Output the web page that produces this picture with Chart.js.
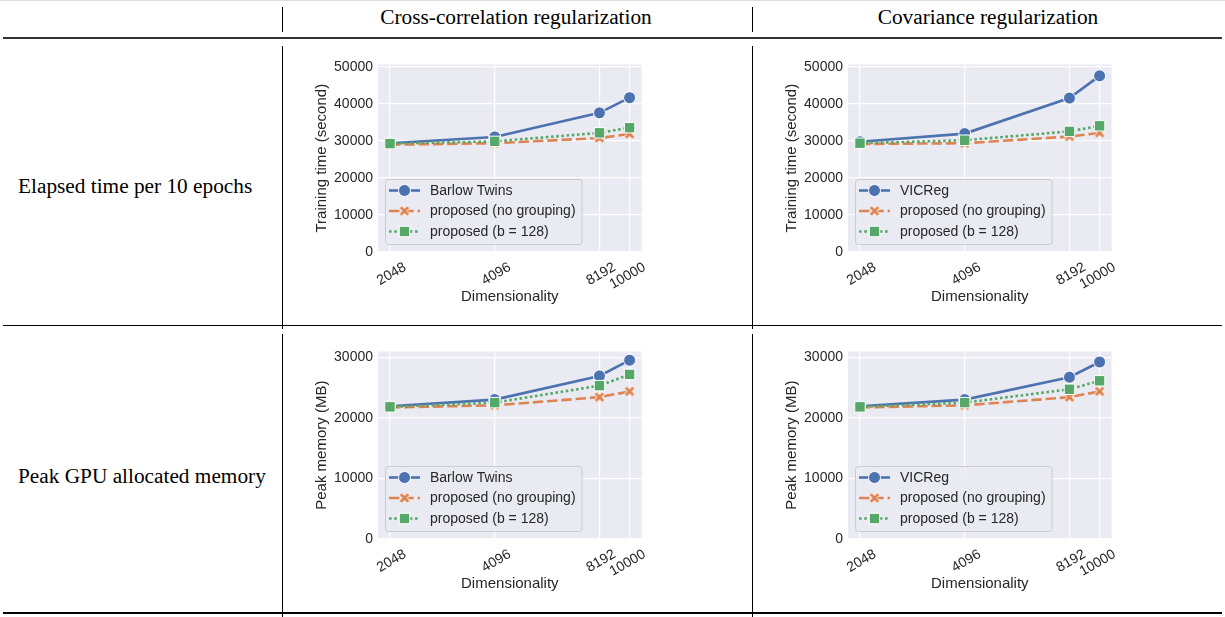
<!DOCTYPE html>
<html><head><meta charset="utf-8">
<script src="https://cdn.jsdelivr.net/npm/chart.js@4.4.1/dist/chart.umd.min.js"></script>
<style>
html,body{margin:0;padding:0;background:#fff;}
body{width:1225px;height:617px;overflow:hidden;position:relative;font-family:"Liberation Serif","Times New Roman",serif;}
.ln{position:absolute;background:#000;}
.t{position:absolute;font-size:21.3px;line-height:1;color:#000;white-space:nowrap;}
.hc{transform:translateX(-50%);}
canvas.c{position:absolute;}
</style></head><body>
<div class="ln" style="left:0;top:0;width:1225px;height:1px;background:#dcdcdc"></div>
<div class="ln" style="left:3px;top:37px;width:1219px;height:2px;background:#333"></div>
<div class="ln" style="left:3px;top:325px;width:1219px;height:1px;"></div>
<div class="ln" style="left:3px;top:612px;width:1219px;height:2px;"></div>
<div class="ln" style="left:282px;top:7px;width:1px;height:25px;"></div>
<div class="ln" style="left:752px;top:7px;width:1px;height:25px;"></div>
<div class="ln" style="left:282px;top:46px;width:1px;height:283px;"></div>
<div class="ln" style="left:752px;top:46px;width:1px;height:283px;"></div>
<div class="ln" style="left:282px;top:334px;width:1px;height:283px;"></div>
<div class="ln" style="left:752px;top:334px;width:1px;height:283px;"></div>
<div class="t hc" style="left:516px;top:7px">Cross-correlation regularization</div>
<div class="t hc" style="left:988px;top:7px">Covariance regularization</div>
<div class="t" style="left:18px;top:175.5px">Elapsed time per 10 epochs</div>
<div class="t" style="left:18px;top:465.5px">Peak GPU allocated memory</div>
<canvas class="c" id="c1" width="345" height="259" style="left:305px;top:51px"></canvas>
<canvas class="c" id="c2" width="345" height="259" style="left:775px;top:51px"></canvas>
<canvas class="c" id="c3" width="345" height="259" style="left:305px;top:338px"></canvas>
<canvas class="c" id="c4" width="345" height="259" style="left:775px;top:338px"></canvas>
<script>
// ---- data ----
const dims = [2048, 4096, 8192, 10000];
const xTicks = [2048, 4096, 8192, 10000];
const timeTicks = [0, 10000, 20000, 30000, 40000, 50000];
const memTicks = [0, 10000, 20000, 30000];

const labelsBarlow = ['Barlow Twins', 'proposed (no grouping)', 'proposed (b = 128)'];
const labelsVICReg = ['VICReg', 'proposed (no grouping)', 'proposed (b = 128)'];

const timeBarlow        = [29400, 31100, 37600, 41700];
const timeBarlowNoGroup = [29000, 29400, 30800, 31900];
const timeBarlowB128    = [29300, 29900, 32200, 33600];

const timeVICReg        = [29800, 32000, 41600, 47600];
const timeVICRegNoGroup = [29200, 29400, 31200, 32200];
const timeVICRegB128    = [29400, 30200, 32600, 34100];

const memBarlow         = [21900, 23000, 26900, 29500];
const memBarlowNoGroup  = [21700, 22050, 23400, 24350];
const memBarlowB128     = [21800, 22500, 25300, 27150];

const memVICReg         = [21900, 23000, 26700, 29200];
const memVICRegNoGroup  = [21700, 22050, 23400, 24350];
const memVICRegB128     = [21800, 22500, 24700, 26100];

// ---- styles ----
const FONT = '"Liberation Sans", Arial, sans-serif';
const TXT = '#262626';
Chart.defaults.font.family = FONT;
Chart.defaults.color = TXT;

function makeXMarker(color) {
  const c = document.createElement('canvas');
  c.width = 16; c.height = 16;
  const g = c.getContext('2d');
  const L = 5.9, w = 1.8;
  const pts = [[-L,-w],[-L,w],[-w,w],[-w,L],[w,L],[w,w],[L,w],[L,-w],[w,-w],[w,-L],[-w,-L],[-w,-w]];
  g.beginPath();
  pts.forEach(([x, y], i) => {
    const rx = (x - y) / Math.SQRT2 + 8, ry = (x + y) / Math.SQRT2 + 8;
    if (i) g.lineTo(rx, ry); else g.moveTo(rx, ry);
  });
  g.closePath();
  g.fillStyle = color; g.fill();
  g.strokeStyle = '#fff'; g.lineWidth = 1; g.stroke();
  return c;
}
const xMarker = makeXMarker('#DD8452');
const STY = [
  { color: '#4C72B0', dash: [], point: 'circle', r: 6, order: 3 },
  { color: '#DD8452', dash: [10.4, 3.9], point: xMarker, r: 6, order: 2 },
  { color: '#55A868', dash: [2.6, 2.6], point: 'rect', r: 7.4, order: 1 },
];

function mkDataset(label, vals, s) {
  return {
    label,
    data: dims.map((x, i) => ({ x, y: vals[i] })),
    borderColor: s.color, backgroundColor: s.color,
    borderWidth: 2.6, borderDash: s.dash, borderCapStyle: 'butt',
    pointStyle: s.point, pointRadius: s.r, pointHoverRadius: s.r,
    pointBackgroundColor: s.color, pointBorderColor: '#fff', pointBorderWidth: 1,
    tension: 0, fill: false, order: s.order, clip: false,
  };
}

const bgPlugin = {
  id: 'bgArea',
  beforeDraw(chart) {
    const { ctx, chartArea: a } = chart;
    ctx.save();
    ctx.fillStyle = '#EAEAF2';
    ctx.fillRect(a.left, a.top, a.right - a.left, a.bottom - a.top);
    ctx.restore();
  }
};

function roundRect(ctx, x, y, w, h, r) {
  ctx.beginPath();
  ctx.moveTo(x + r, y);
  ctx.lineTo(x + w - r, y); ctx.arcTo(x + w, y, x + w, y + r, r);
  ctx.lineTo(x + w, y + h - r); ctx.arcTo(x + w, y + h, x + w - r, y + h, r);
  ctx.lineTo(x + r, y + h); ctx.arcTo(x, y + h, x, y + h - r, r);
  ctx.lineTo(x, y + r); ctx.arcTo(x, y, x + r, y, r);
  ctx.closePath();
}

const legendPlugin = {
  id: 'seaLegend',
  afterDatasetsDraw(chart) {
    const { ctx, chartArea: a } = chart;
    const ds = chart.data.datasets;
    ctx.save();
    ctx.font = '14px ' + FONT;
    const tw = Math.max(...ds.map(d => ctx.measureText(d.label).width));
    const h = 65, w = 45 + tw + 6;
    const x0 = a.left + 7, y0 = a.bottom - 8 - h;
    roundRect(ctx, x0 + 0.5, y0 + 0.5, w, h, 3);
    ctx.fillStyle = 'rgba(234,234,242,0.85)';
    ctx.fill();
    ctx.strokeStyle = '#cccccc'; ctx.lineWidth = 1; ctx.stroke();
    ds.forEach((d, i) => {
      const y = y0 + 11.5 + i * 20.5;
      ctx.save();
      ctx.strokeStyle = d.borderColor; ctx.lineWidth = d.borderWidth;
      ctx.setLineDash(d.borderDash); ctx.lineCap = 'butt';
      ctx.beginPath(); ctx.moveTo(x0 + 4, y); ctx.lineTo(x0 + 35, y); ctx.stroke();
      ctx.setLineDash([]);
      const mx = x0 + 19.5;
      if (d.pointStyle === 'circle') {
        ctx.beginPath(); ctx.arc(mx, y, d.pointRadius, 0, Math.PI * 2);
        ctx.fillStyle = d.pointBackgroundColor; ctx.fill();
        ctx.strokeStyle = '#fff'; ctx.lineWidth = 1; ctx.stroke();
      } else if (d.pointStyle === 'rect') {
        const s = d.pointRadius * Math.SQRT1_2;
        ctx.fillStyle = d.pointBackgroundColor; ctx.fillRect(mx - s, y - s, 2 * s, 2 * s);
        ctx.strokeStyle = '#fff'; ctx.lineWidth = 1; ctx.strokeRect(mx - s, y - s, 2 * s, 2 * s);
      } else {
        ctx.drawImage(d.pointStyle, mx - 8, y - 8);
      }
      ctx.restore();
      ctx.fillStyle = TXT; ctx.textBaseline = 'middle'; ctx.textAlign = 'left';
      ctx.fillText(d.label, x0 + 45, y + 0.5);
    });
    ctx.restore();
  }
};

function makeChart(id, labels, series, yTitle, yTicks, yMax) {
  new Chart(document.getElementById(id), {
    type: 'line',
    data: { datasets: series.map((v, i) => mkDataset(labels[i], v, STY[i])) },
    options: {
      responsive: false, animation: false, devicePixelRatio: 1,
      layout: { padding: { left: 4, right: 7, top: 0, bottom: 0 } },
      plugins: { legend: { display: false }, tooltip: { enabled: false } },
      events: [],
      scales: {
        x: {
          type: 'logarithmic', min: 1892, max: 10826,
          afterBuildTicks: s => { s.ticks = xTicks.map(v => ({ value: v })); },
          afterFit: s => { s.height = 58; },
          grid: { color: '#ffffff', lineWidth: 1.2, drawTicks: false },
          border: { display: false },
          ticks: {
            autoSkip: false, minRotation: 30, maxRotation: 30, padding: 7, labelOffset: 15,
            font: { size: 14 }, color: TXT, callback: v => String(v)
          },
          title: { display: true, text: 'Dimensionality', font: { size: 15 }, color: TXT, padding: { top: 4, bottom: 4 } }
        },
        y: {
          type: 'linear', min: 0, max: yMax,
          afterBuildTicks: s => { s.ticks = yTicks.map(v => ({ value: v })); },
          afterFit: s => { s.width = 69; },
          grid: { color: '#ffffff', lineWidth: 1.2, drawTicks: false },
          border: { display: false },
          ticks: { padding: 5, font: { size: 14 }, color: TXT, callback: v => String(v) },
          title: { display: true, text: yTitle, font: { size: 15 }, color: TXT, padding: { top: 4, bottom: 4 } }
        }
      }
    },
    plugins: [bgPlugin, legendPlugin]
  });
}

makeChart('c1', labelsBarlow, [timeBarlow, timeBarlowNoGroup, timeBarlowB128], 'Training time (second)', timeTicks, 50700);
makeChart('c2', labelsVICReg, [timeVICReg, timeVICRegNoGroup, timeVICRegB128], 'Training time (second)', timeTicks, 50700);
makeChart('c3', labelsBarlow, [memBarlow, memBarlowNoGroup, memBarlowB128], 'Peak memory (MB)', memTicks, 30950);
makeChart('c4', labelsVICReg, [memVICReg, memVICRegNoGroup, memVICRegB128], 'Peak memory (MB)', memTicks, 30950);
</script>
</body></html>
